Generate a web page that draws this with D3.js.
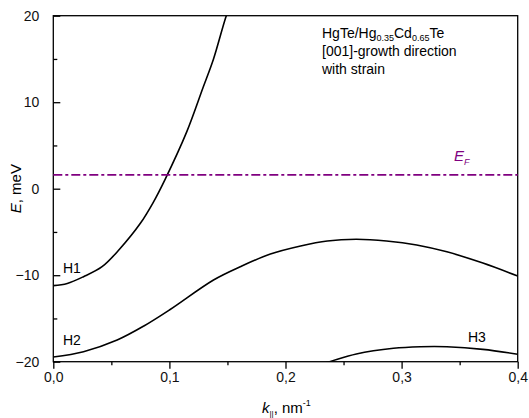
<!DOCTYPE html>
<html>
<head>
<meta charset="utf-8">
<script src="https://cdn.jsdelivr.net/npm/d3@7"></script>
<style>
body { margin: 0; background: #fff; }
text { font-family: "Liberation Sans", Arial, sans-serif; }
</style>
</head>
<body>
<script>
var w = 529, h = 418;

// band H1
var kH1 = [0, 0.012, 0.026, 0.042, 0.057, 0.075, 0.086, 0.096, 0.115, 0.129, 0.138, 0.149, 0.156];
var eH1 = [-11.2, -10.95, -10.17, -9.02, -7.0, -4.0, -1.6, 1.0, 6.6, 11.7, 15.0, 20, 22.5];
// band H2
var kH2 = [0, 0.026, 0.055, 0.078, 0.1, 0.138, 0.161, 0.187, 0.213, 0.236, 0.261, 0.287, 0.313, 0.339, 0.370, 0.4];
var eH2 = [-19.45, -18.84, -17.49, -15.87, -14.02, -10.55, -9.02, -7.55, -6.62, -6.04, -5.85, -6.04, -6.5, -7.3, -8.6, -10.1];
// band H3
var kH3 = [0.225, 0.238, 0.261, 0.293, 0.316, 0.339, 0.370, 0.4];
var eH3 = [-20.5, -20.0, -19.11, -18.45, -18.27, -18.27, -18.57, -19.14];
// Fermi level
var eF = 1.6;

var xTicks = [0, 0.1, 0.2, 0.3, 0.4];
var xMinor = [0.05, 0.15, 0.25, 0.35];
var yTicks = [-20, -10, 0, 10, 20];
var yMinor = [-15, -5, 5, 15];

var pL = 53.3, pR = 517.7, pT = 15.7, pB = 361.7;

var svg = d3.select("body")
    .append("svg")
    .attr("width", w)
    .attr("height", h);

var xScale = d3.scaleLinear().domain([0, 0.4]).range([pL, pR]);
var yScale = d3.scaleLinear().domain([-20, 20]).range([pB, pT]);

var fmt = function(d) { return d3.format(".1f")(d).replace(".", ","); };

svg.append("clipPath")
    .attr("id", "plot")
    .append("rect")
    .attr("x", pL).attr("y", pT)
    .attr("width", pR - pL).attr("height", pB - pT);

// frame
svg.append("rect")
    .attr("x", pL).attr("y", pT)
    .attr("width", pR - pL).attr("height", pB - pT)
    .style("fill", "none")
    .style("stroke", "black")
    .style("stroke-width", 1.3);

// y axis, ticks point inward
var yAxis = d3.axisLeft(yScale).tickValues(yTicks).tickSize(-7).tickPadding(14).tickFormat(d3.format("d"));
var gy = svg.append("g")
    .attr("transform", "translate(" + pL + ",0)")
    .call(yAxis);
gy.select(".domain").remove();

var yAxisMinor = d3.axisLeft(yScale).tickValues(yMinor).tickSize(-4).tickFormat("");
var gym = svg.append("g")
    .attr("transform", "translate(" + pL + ",0)")
    .call(yAxisMinor);
gym.select(".domain").remove();

// x axis, ticks point outward
var xAxis = d3.axisBottom(xScale).tickValues(xTicks).tickSize(7).tickPadding(3).tickFormat(fmt);
var gx = svg.append("g")
    .attr("transform", "translate(0," + pB + ")")
    .call(xAxis);
gx.select(".domain").remove();

var xAxisMinor = d3.axisBottom(xScale).tickValues(xMinor).tickSize(3.5).tickFormat("");
var gxm = svg.append("g")
    .attr("transform", "translate(0," + pB + ")")
    .call(xAxisMinor);
gxm.select(".domain").remove();

svg.selectAll(".tick line").style("stroke-width", 1.3);
svg.selectAll(".tick text")
    .style("font-size", "14px")
    .style("font-family", "Liberation Sans, Arial, sans-serif")
    .style("fill", "#111");

// bands
var line = d3.line()
    .x(d => xScale(d[0]))
    .y(d => yScale(d[1]))
    .curve(d3.curveCatmullRom.alpha(0.5));

var bands = [
    d3.zip(kH1, eH1),
    d3.zip(kH2, eH2),
    d3.zip(kH3, eH3)
];

svg.append("g")
    .attr("clip-path", "url(#plot)")
    .selectAll("path")
    .data(bands)
    .enter()
    .append("path")
    .attr("d", line)
    .style("fill", "none")
    .style("stroke", "black")
    .style("stroke-width", 1.6);

// Fermi level
svg.append("line")
    .attr("x1", xScale(0)).attr("x2", xScale(0.4))
    .attr("y1", yScale(eF)).attr("y2", yScale(eF))
    .style("stroke", "#800080")
    .style("stroke-width", 1.6)
    .style("stroke-dasharray", "9,3,3,3");

var ef = svg.append("text")
    .attr("x", 454).attr("y", 161)
    .style("font-size", "15px")
    .style("fill", "#800080");
ef.append("tspan").style("font-style", "italic").text("E");
ef.append("tspan").attr("dy", 4).style("font-size", "9px").style("font-style", "italic").text("F");

// band labels
var labels = [
    {t: "H1", x: 63, y: 273},
    {t: "H2", x: 63, y: 345},
    {t: "H3", x: 468, y: 342}
];
svg.selectAll(".blabel")
    .data(labels)
    .enter()
    .append("text")
    .attr("class", "blabel")
    .attr("x", d => d.x)
    .attr("y", d => d.y)
    .style("font-size", "14px")
    .text(d => d.t);

// annotation
var a1 = svg.append("text").attr("x", 322).attr("y", 38).style("font-size", "14px");
a1.append("tspan").text("HgTe/Hg");
a1.append("tspan").attr("dy", 3).style("font-size", "9px").text("0.35");
a1.append("tspan").attr("dy", -3).text("Cd");
a1.append("tspan").attr("dy", 3).style("font-size", "9px").text("0.65");
a1.append("tspan").attr("dy", -3).text("Te");

svg.append("text").attr("x", 322).attr("y", 56).style("font-size", "14px").text("[001]-growth direction");
svg.append("text").attr("x", 322).attr("y", 74).style("font-size", "14px").text("with strain");

// axis titles
var yt = svg.append("text")
    .attr("transform", "translate(21," + yScale(0) + ") rotate(-90)")
    .attr("text-anchor", "middle")
    .style("font-size", "15px");
yt.append("tspan").style("font-style", "italic").text("E");
yt.append("tspan").text(", meV");

var xt = svg.append("text")
    .attr("x", 262).attr("y", 413)
    .style("font-size", "15px");
xt.append("tspan").style("font-style", "italic").text("k");
xt.append("tspan").attr("dy", 3).style("font-size", "8px").text("||");
xt.append("tspan").attr("dy", -3).text(", nm");
xt.append("tspan").attr("dy", -7).style("font-size", "9px").text("-1");
</script>
</body>
</html>
